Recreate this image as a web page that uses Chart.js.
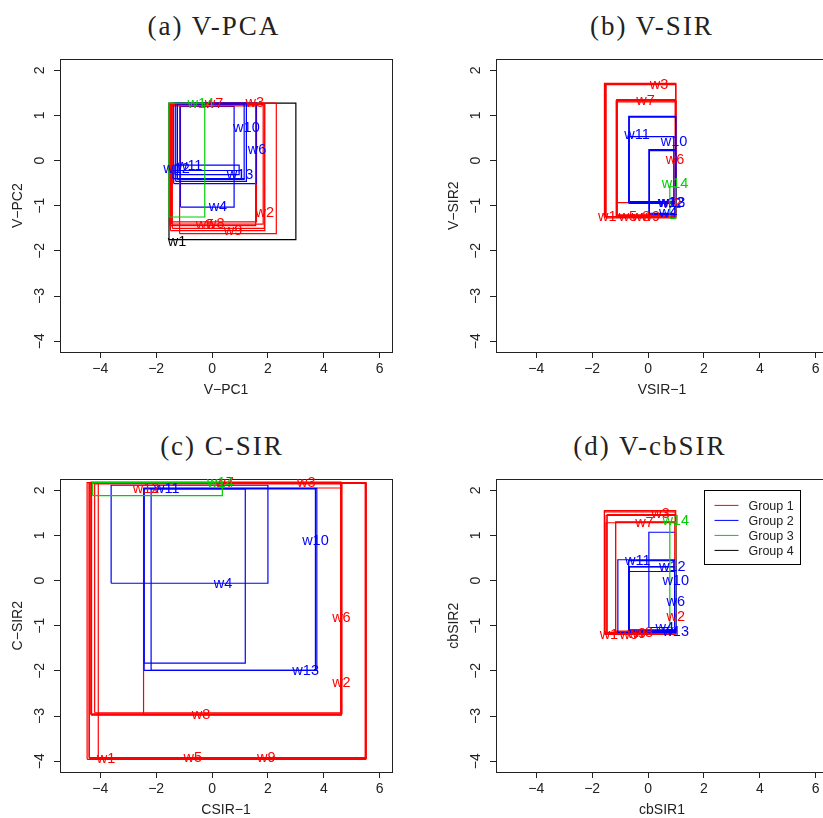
<!DOCTYPE html>
<html>
<head>
<meta charset="utf-8">
<script src="https://cdn.jsdelivr.net/npm/chart.js@4.4.1/dist/chart.umd.min.js"></script>
<style>
  body { margin: 0; width: 823px; height: 818px; overflow: hidden; background: #fff; position: relative; }
  canvas { position: absolute; }
  .ttl { position: absolute; width: 300px; text-align: center; font: 27px "Liberation Serif", "Times New Roman", serif;
         letter-spacing: 2px; line-height: 27px; color: #222; white-space: nowrap; }
</style>
</head>
<body>
<div class="ttl" style="left:64px;top:13px">(a) V-PCA</div>
<div class="ttl" style="left:502px;top:13px">(b) V-SIR</div>
<div class="ttl" style="left:72px;top:433px">(c) C-SIR</div>
<div class="ttl" style="left:500px;top:433px">(d) V-cbSIR</div>
<canvas id="pca" width="412" height="356" style="left:0px;top:45px"></canvas>
<canvas id="vsir" width="412" height="356" style="left:436px;top:45px"></canvas>
<canvas id="csir" width="412" height="356" style="left:0px;top:465px"></canvas>
<canvas id="cbsir" width="412" height="356" style="left:436px;top:465px"></canvas>
<script>
// window names, groups and axis ticks
const windows = ['w1','w2','w3','w4','w5','w6','w7','w8','w9','w10','w11','w12','w13','w14'];
const groupNames = ['Group 1', 'Group 2', 'Group 3', 'Group 4'];
const xTicks = [-4, -2, 0, 2, 4, 6];
const yTicks = [-4, -3, -2, -1, 0, 1, 2];

// (a) V-PCA : interval rectangles [x1,x2] x [y1,y2]
const pcaGroup = [4, 1, 1, 2, 1, 2, 1, 1, 1, 2, 2, 2, 2, 3];
const pcaX1 = [-1.54, -1.49, -1.45, -1.13, -1.47, -1.37, -1.42, -1.52, -1.16, -1.30, -1.33, -1.40, -1.24, -1.54];
const pcaX2 = [3.00, 1.89, 1.83, 0.79, 1.59, 1.59, 1.87, 1.56, 2.30, 1.23, 0.97, 1.05, 1.15, -0.26];
const pcaY1 = [-1.75, -1.55, -1.41, -1.03, -1.36, -0.51, -1.50, -1.44, -1.62, -0.46, -0.31, -0.40, -0.42, -1.25];
const pcaY2 = [1.27, 1.26, 1.25, 1.20, 1.21, 1.27, 1.24, 1.26, 1.27, 1.27, -0.10, -0.22, 1.25, 1.27];
const pcaLabX = [-1.25, 1.89, 1.53, 0.21, -0.25, 1.61, 0.07, 0.12, 0.75, 1.23, -0.80, -1.27, 1.00, -0.40];
const pcaLabY = [-1.80, -1.17, 1.27, -1.03, -1.42, 0.24, 1.26, -1.40, -1.55, 0.73, -0.11, -0.19, -0.33, 1.26];

// (b) V-SIR
const vsirGroup = [1, 1, 1, 2, 1, 1, 1, 1, 1, 2, 2, 2, 2, 3];
const vsirX1 = [-1.50, -1.10, -1.56, 0.03, -1.12, -1.12, -1.12, -1.52, -1.14, 0.05, -0.69, -0.69, -0.67, 0.78];
const vsirX2 = [0.99, 0.99, 0.99, 0.97, 0.97, 0.99, 0.99, 0.99, 0.99, 0.99, 0.92, 0.99, 0.99, 0.99];
const vsirY1 = [-1.27, -1.20, -1.24, -1.17, -1.24, -1.22, -0.93, -1.24, -1.26, -1.19, -0.93, -0.95, -0.91, -1.28];
const vsirY2 = [1.70, 1.33, 1.71, 0.24, 1.35, 1.30, 1.33, 1.68, 1.32, 0.22, 0.53, 0.98, 0.96, -0.58];
const vsirLabX = [-1.46, 0.86, 0.39, 0.72, -0.72, 0.97, -0.09, -0.25, 0.10, 0.93, -0.39, 0.82, 0.86, 0.97];
const vsirLabY = [-1.26, -0.97, 1.67, -1.17, -1.24, 0.02, 1.31, -1.24, -1.25, 0.41, 0.56, -0.93, -0.95, -0.53];

// (c) C-SIR
const csirGroup = [1, 1, 1, 2, 1, 1, 1, 1, 1, 2, 2, 1, 2, 3];
const csirX1 = [-4.47, -4.36, -2.45, -3.61, -4.39, -4.31, -4.20, -4.33, -4.07, -2.18, -2.43, -4.40, -2.43, -4.27];
const csirX2 = [5.50, 4.65, 4.63, 2.00, 5.52, 4.63, 4.60, 4.62, 5.50, 3.70, 1.19, 5.48, 3.75, 0.37];
const csirY1 = [-3.96, -2.95, -2.97, -0.06, -3.94, -2.97, -2.93, -2.98, -3.93, -1.99, -1.83, -3.92, -1.99, 1.88];
const csirY2 = [2.17, 2.15, 2.05, 2.11, 2.16, 2.17, 2.14, 2.18, 2.17, 2.03, 2.03, 2.15, 2.04, 2.17];
const csirLabX = [-3.79, 4.63, 3.37, 0.39, -0.69, 4.63, 0.45, -0.39, 1.94, 3.70, -1.62, -2.36, 3.35, 0.30];
const csirLabY = [-3.96, -2.27, 2.17, -0.08, -3.94, -0.84, 2.17, -2.97, -3.94, 0.88, 2.02, 2.02, -2.00, 2.17];

// (d) V-cbSIR
const cbsirGroup = [1, 1, 1, 2, 1, 2, 1, 1, 1, 2, 2, 2, 2, 3];
const cbsirX1 = [-1.56, -1.50, -1.56, 0.03, -1.46, -0.69, -1.16, -1.16, -1.50, -0.69, -1.08, -0.69, -0.67, 0.78];
const cbsirX2 = [0.97, 0.99, 0.99, 0.99, 0.99, 0.99, 0.99, 0.97, 0.97, 0.95, 0.99, 0.97, 0.99, 0.99];
const cbsirY1 = [-1.19, -1.16, -1.17, -1.04, -1.15, -1.12, -1.12, -1.14, -1.18, -1.10, -1.15, -1.13, -1.10, -1.04];
const cbsirY2 = [1.52, 1.44, 1.55, 1.07, 1.46, 0.31, 1.30, 1.29, 1.28, 0.20, 0.46, 0.44, 0.30, 1.30];
const cbsirLabX = [-1.40, 0.99, 0.45, 0.60, -0.69, 0.99, -0.13, -0.15, -0.40, 0.99, -0.37, 0.87, 0.99, 0.99];
const cbsirLabY = [-1.20, -0.80, 1.48, -1.05, -1.20, -0.47, 1.28, -1.17, -1.19, 0.00, 0.44, 0.29, -1.14, 1.32];

const groupColors = ['#ff0000', '#0000ff', '#00cd00', '#000000'];
const sans = '"Liberation Sans", Arial, sans-serif';
const minus = v => String(v).replace('-', '\u2212');

function rectDatasets(group, x1, x2, y1, y2) {
  return windows.map((w, i) => ({
    label: w,
    data: [
      { x: x1[i], y: y1[i] }, { x: x2[i], y: y1[i] }, { x: x2[i], y: y2[i] },
      { x: x1[i], y: y2[i] }, { x: x1[i], y: y1[i] }
    ],
    showLine: true,
    fill: false,
    tension: 0,
    pointRadius: 0,
    borderWidth: 1.2,
    borderColor: groupColors[group[i] - 1],
    order: windows.length - i
  }));
}

// box around the plot plus the window names
function labelPlugin(group, labX, labY, withLegend) {
  return {
    id: 'windowLabels',
    afterDatasetsDraw(chart) {
      const { ctx, chartArea: a, scales: { x, y } } = chart;
      ctx.save();
      ctx.strokeStyle = '#222';
      ctx.lineWidth = 1;
      ctx.strokeRect(Math.round(a.left) + 0.5, Math.round(a.top) + 0.5,
                     Math.round(a.right - a.left), Math.round(a.bottom - a.top));
      ctx.font = '14.5px ' + sans;
      ctx.textAlign = 'center';
      ctx.textBaseline = 'middle';
      windows.forEach((w, i) => {
        ctx.fillStyle = groupColors[group[i] - 1];
        ctx.fillText(w, x.getPixelForValue(labX[i]), y.getPixelForValue(labY[i]));
      });
      if (withLegend) {
        const lx = a.left + 207.5, ly = a.top + 11;
        ctx.strokeStyle = '#000';
        ctx.strokeRect(Math.round(lx) + 0.5, Math.round(ly) + 0.5, 96, 74);
        ctx.font = '12.5px ' + sans;
        ctx.textAlign = 'left';
        groupNames.forEach((g, i) => {
          const ry = ly + 15 + i * 15;
          ctx.strokeStyle = groupColors[i];
          ctx.beginPath();
          ctx.moveTo(lx + 11, ry);
          ctx.lineTo(lx + 35, ry);
          ctx.stroke();
          ctx.fillStyle = '#222';
          ctx.fillText(g, lx + 45, ry + 1);
        });
      }
      ctx.restore();
    }
  };
}

function makePanel(id, xTitle, yTitle, group, x1, x2, y1, y2, labX, labY, withLegend) {
  const tickFont = { family: sans, size: 14 };
  new Chart(document.getElementById(id), {
    type: 'scatter',
    data: { datasets: rectDatasets(group, x1, x2, y1, y2) },
    options: {
      responsive: false,
      animation: false,
      layout: { padding: { left: 10, top: 10, right: 20, bottom: 2 } },
      plugins: { legend: { display: false }, tooltip: { enabled: false } },
      scales: {
        x: {
          type: 'linear', min: -5.44, max: 6.44,
          afterBuildTicks: s => { s.ticks = xTicks.map(v => ({ value: v })); },
          afterFit: s => { s.height = 47; },
          grid: { drawOnChartArea: false, drawTicks: true, tickLength: 6, color: '#222' },
          border: { display: false },
          ticks: { autoSkip: false, maxRotation: 0, padding: 3, color: '#222', font: tickFont, callback: minus },
          title: { display: true, text: xTitle, color: '#222', font: tickFont, padding: 0 }
        },
        y: {
          type: 'linear', min: -4.24, max: 2.24,
          afterBuildTicks: s => { s.ticks = yTicks.map(v => ({ value: v })); },
          afterFit: s => { s.width = 50; },
          grid: { drawOnChartArea: false, drawTicks: true, tickLength: 6, color: '#222' },
          border: { display: false },
          ticks: { autoSkip: false, minRotation: 90, maxRotation: 90, crossAlign: 'center', padding: 6,
                   color: '#222', font: tickFont, callback: minus },
          title: { display: true, text: yTitle, color: '#222', font: tickFont, padding: 0 }
        }
      }
    },
    plugins: [labelPlugin(group, labX, labY, withLegend)]
  });
}

makePanel('pca', 'V\u2212PC1', 'V\u2212PC2', pcaGroup, pcaX1, pcaX2, pcaY1, pcaY2, pcaLabX, pcaLabY, false);
makePanel('vsir', 'VSIR\u22121', 'V\u2212SIR2', vsirGroup, vsirX1, vsirX2, vsirY1, vsirY2, vsirLabX, vsirLabY, false);
makePanel('csir', 'CSIR\u22121', 'C\u2212SIR2', csirGroup, csirX1, csirX2, csirY1, csirY2, csirLabX, csirLabY, false);
makePanel('cbsir', 'cbSIR1', 'cbSIR2', cbsirGroup, cbsirX1, cbsirX2, cbsirY1, cbsirY2, cbsirLabX, cbsirLabY, true);
</script>
</body>
</html>
